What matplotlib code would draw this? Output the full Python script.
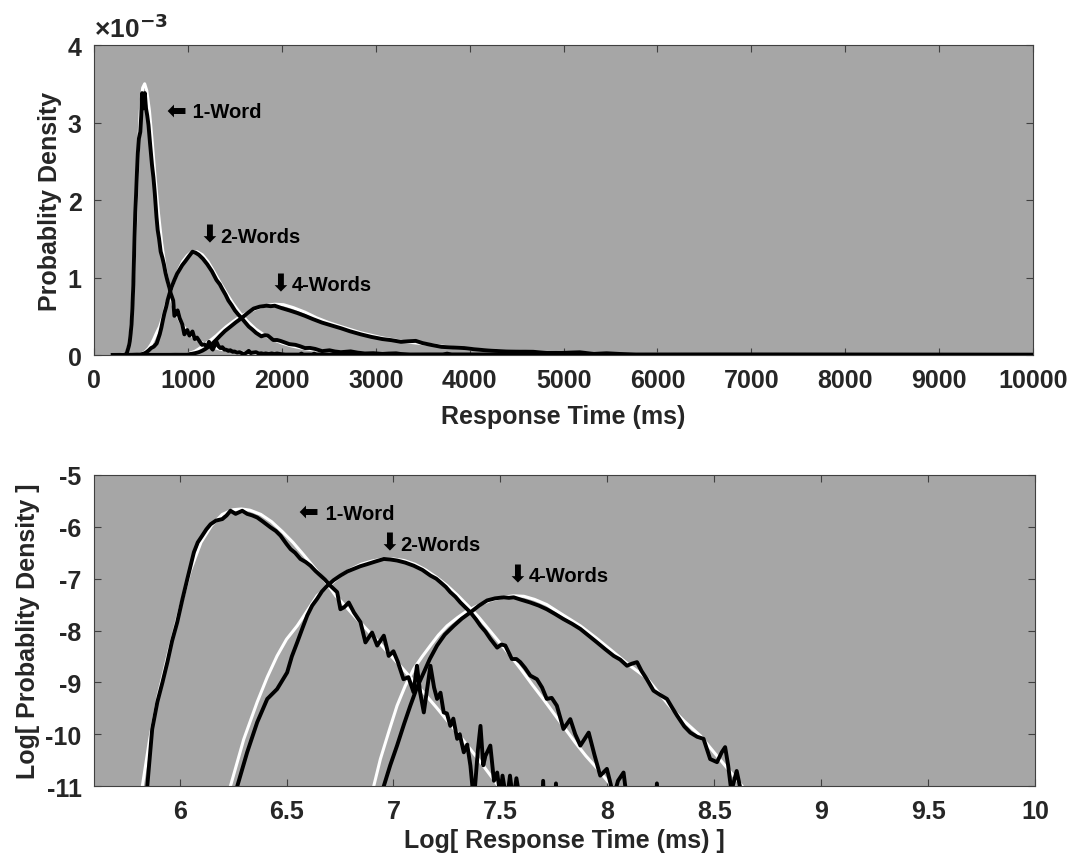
"""Response time densities: empirical (black) vs fitted (white), linear and log scales."""

import numpy as np
import matplotlib
matplotlib.use("Agg")
import matplotlib.pyplot as plt

# values read in log space: x = ln(RT ms), y = ln(density)
emp1_lx = [5.30, 5.70, 5.80, 5.849, 5.872, 5.896, 5.92, 5.943, 5.965, 5.989, 6.012, 6.036, 6.067,
           6.085, 6.106, 6.125, 6.145, 6.17, 6.20, 6.22, 6.238, 6.262, 6.293, 6.316, 6.34, 6.363,
           6.39, 6.425, 6.45, 6.472, 6.50, 6.519, 6.54, 6.565, 6.59, 6.612, 6.635, 6.659, 6.68,
           6.706, 6.737, 6.752, 6.77, 6.791, 6.815, 6.846, 6.869, 6.90, 6.924, 6.955, 6.978, 7.00,
           7.02, 7.047, 7.07, 7.094, 7.11, 7.125, 7.142, 7.173, 7.19, 7.204, 7.22, 7.235, 7.25,
           7.266, 7.28, 7.298, 7.31, 7.329, 7.345, 7.36, 7.376, 7.395, 7.407, 7.42, 7.43, 7.453,
           7.47, 7.485, 7.50, 7.51, 7.53, 7.545, 7.56, 7.575, 7.593, 7.62, 7.69, 7.70, 7.71, 7.75,
           7.76, 7.77, 8.00, 8.50, 9.25]
emp1_ly = [-14, -14, -12.5, -11.0, -9.90, -9.38, -9.0, -8.61, -8.2, -7.84, -7.42, -7.01, -6.49,
           -6.3, -6.17, -6.05, -5.95, -5.88, -5.85, -5.78, -5.69, -5.75, -5.69, -5.75, -5.78, -5.82,
           -5.9, -6.01, -6.08, -6.17, -6.33, -6.43, -6.5, -6.62, -6.68, -6.75, -6.85, -6.94, -7.02,
           -7.14, -7.26, -7.59, -7.55, -7.46, -7.65, -7.84, -8.23, -8.04, -8.29, -8.10, -8.49, -8.4,
           -8.6, -8.94, -8.9, -9.19, -8.68, -9.2, -9.58, -8.68, -9.1, -9.32, -9.2, -9.58, -9.6,
           -9.84, -9.7, -10.09, -10.0, -10.35, -10.2, -10.61, -11.3, -10.3, -9.84, -10.6, -10.42, -10.22,
           -10.9, -10.74, -11.2, -10.8, -11.3, -10.8, -11.3, -10.85, -11.3, -12, -12, -10.9, -12, -12,
           -10.95, -12, -12.5, -13, -13.5]

emp2_lx = [5.30, 6.00, 6.20, 6.27, 6.316, 6.363, 6.41, 6.456, 6.503, 6.525, 6.55, 6.575, 6.597,
           6.62, 6.643, 6.665, 6.69, 6.72, 6.752, 6.785, 6.815, 6.845, 6.877, 6.915, 6.955, 6.985,
           7.017, 7.055, 7.095, 7.135, 7.173, 7.20, 7.22, 7.245, 7.266, 7.29, 7.313, 7.335, 7.36,
           7.385, 7.407, 7.43, 7.453, 7.485, 7.505, 7.523, 7.554, 7.575, 7.593, 7.615, 7.64, 7.671,
           7.695, 7.717, 7.74, 7.764, 7.795, 7.827, 7.85, 7.874, 7.913, 7.94, 7.967, 7.998, 8.03,
           8.05, 8.076, 8.09, 8.12, 8.22, 8.232, 8.245, 8.60, 9.25]
emp2_ly = [-14, -13, -12, -11.0, -10.35, -9.77, -9.32, -9.13, -8.81, -8.5, -8.23, -7.95, -7.71,
           -7.52, -7.39, -7.25, -7.14, -7.03, -6.94, -6.86, -6.81, -6.76, -6.72, -6.67, -6.62, -6.63,
           -6.65, -6.69, -6.75, -6.83, -6.94, -7.0, -7.07, -7.16, -7.26, -7.35, -7.46, -7.55, -7.65,
           -7.78, -7.91, -8.02, -8.16, -8.33, -8.27, -8.29, -8.55, -8.55, -8.61, -8.72, -8.87, -8.94,
           -9.1, -9.32, -9.3, -9.45, -9.90, -9.71, -10.0, -10.22, -9.97, -10.4, -10.80, -10.67, -11.2,
           -10.9, -10.74, -11.2, -12, -12, -10.95, -12, -12.5, -13]

emp4_lx = [5.30, 6.70, 6.90, 6.955, 6.985, 7.017, 7.05, 7.079, 7.11, 7.142, 7.17, 7.204, 7.24,
           7.282, 7.32, 7.36, 7.40, 7.438, 7.475, 7.516, 7.54, 7.562, 7.60, 7.64, 7.68, 7.717,
           7.755, 7.795, 7.835, 7.874, 7.91, 7.952, 7.99, 8.03, 8.06, 8.092, 8.115, 8.139, 8.16,
           8.185, 8.216, 8.25, 8.279, 8.305, 8.326, 8.36, 8.388, 8.42, 8.45, 8.481, 8.513, 8.535,
           8.551, 8.565, 8.58, 8.605, 8.63, 8.66, 9.25]
emp4_ly = [-14, -13, -12, -11.0, -10.6, -10.22, -9.8, -9.45, -9.1, -8.81, -8.55, -8.29, -8.08,
           -7.91, -7.77, -7.65, -7.52, -7.42, -7.38, -7.36, -7.37, -7.36, -7.41, -7.46, -7.52, -7.59,
           -7.68, -7.78, -7.87, -7.97, -8.09, -8.23, -8.36, -8.49, -8.56, -8.68, -8.64, -8.61, -8.78,
           -8.94, -9.16, -9.25, -9.32, -9.5, -9.64, -9.85, -9.97, -10.05, -10.09, -10.48, -10.54, -10.35,
           -10.25, -10.6, -11.1, -10.71, -11.2, -12, -13]

fit1_lx = [5.50, 5.826, 5.86, 5.90, 5.95, 6.00, 6.05, 6.10, 6.15, 6.20, 6.25, 6.29, 6.33, 6.38,
           6.43, 6.48, 6.53, 6.58, 6.63, 6.68, 6.73, 6.78, 6.83, 6.88, 6.93, 6.98, 7.04, 7.10, 7.20,
           7.30, 7.40, 7.50, 7.60, 8.50, 9.25]
fit1_ly = [-16, -11.0, -10.1, -9.25, -8.4, -7.6, -6.85, -6.3, -5.97, -5.76, -5.67, -5.655, -5.68,
           -5.76, -5.9, -6.09, -6.3, -6.54, -6.79, -7.04, -7.33, -7.55, -7.78, -8.0, -8.22, -8.45,
           -8.72, -9.0, -9.48, -9.98, -10.5, -11.05, -11.6, -16, -20]

fit2_lx = [5.90, 6.10, 6.238, 6.30, 6.363, 6.41, 6.456, 6.50, 6.55, 6.60, 6.643, 6.70, 6.75, 6.80,
           6.85, 6.90, 6.95, 7.00, 7.05, 7.10, 7.15, 7.20, 7.25, 7.30, 7.35, 7.40, 7.45, 7.50, 7.55,
           7.60, 7.65, 7.70, 7.75, 7.80, 7.85, 7.90, 7.95, 8.00, 8.06, 8.20, 9.25]
fit2_ly = [-15, -12.5, -11.0, -10.1, -9.38, -8.9, -8.49, -8.17, -7.91, -7.6, -7.33, -7.13, -6.95,
           -6.82, -6.72, -6.66, -6.62, -6.62, -6.65, -6.72, -6.83, -6.97, -7.13, -7.32, -7.53, -7.75,
           -8.0, -8.25, -8.5, -8.77, -9.05, -9.32, -9.6, -9.88, -10.16, -10.42, -10.65, -10.9, -11.2,
           -12.2, -17]

fit4_lx = [6.50, 6.70, 6.908, 6.939, 6.98, 7.017, 7.055, 7.095, 7.135, 7.173, 7.21, 7.251, 7.30,
           7.345, 7.40, 7.453, 7.51, 7.562, 7.61, 7.66, 7.717, 7.77, 7.82, 7.874, 7.95, 8.03, 8.10,
           8.185, 8.25, 8.30, 8.36, 8.435, 8.513, 8.59, 8.65, 8.80, 9.25]
fit4_ly = [-15, -13, -11.0, -10.48, -9.93, -9.45, -9.07, -8.74, -8.5, -8.29, -8.09, -7.91, -7.75,
           -7.62, -7.51, -7.42, -7.36, -7.33, -7.34, -7.4, -7.5, -7.64, -7.77, -7.91, -8.15, -8.42,
           -8.66, -8.92, -9.25, -9.5, -9.75, -10.03, -10.42, -10.8, -11.1, -11.8, -14]

empirical = [(emp1_lx, emp1_ly), (emp2_lx, emp2_ly), (emp4_lx, emp4_ly)]
fitted = [(fit1_lx, fit1_ly), (fit2_lx, fit2_ly), (fit4_lx, fit4_ly)]

# annotation anchors (arrow glyph, label) per panel
top_notes = [(768, 3.16, "\u2b05", " 1-Word"), (1120, 1.55, "\u2b07", "2-Words"),
             (1876, 0.93, "\u2b07", "4-Words")]
bot_notes = [(6.556, -5.71, "\u2b05", " 1-Word"), (6.935, -6.31, "\u2b07", "2-Words"),
             (7.533, -6.91, "\u2b07", "4-Words")]

FONT = ["Liberation Sans", "DejaVu Sans"]
TXT = "#262626"
BG = "#a6a6a6"

plt.rcParams["font.family"] = FONT
plt.rcParams["font.weight"] = "bold"
plt.rcParams["axes.unicode_minus"] = False

fig = plt.figure(figsize=(10.71, 8.62), dpi=100)
ax_top = fig.add_axes([0.0878, 0.5870, 0.8768, 0.3596])
ax_bot = fig.add_axes([0.0878, 0.0870, 0.8786, 0.3608])

for ax in (ax_top, ax_bot):
    ax.set_facecolor(BG)
    for s in ax.spines.values():
        s.set_color("#404040")
        s.set_linewidth(0.8)
    ax.tick_params(direction="in", length=5, width=0.8, color="#404040",
                   top=True, right=True, labelsize=18, labelcolor=TXT, pad=9)


def annotate(ax, notes):
    for x, y, arrow, label in notes:
        t = ax.text(x, y, arrow, fontsize=17, color="black", va="center", ha="left",
                    family=["DejaVu Sans"], fontweight="bold")
        ax.annotate(label, xy=(1, 0.5), xycoords=t, xytext=(1, -1), textcoords="offset points",
                    fontsize=14.5, fontweight="bold", color="black", va="center", ha="left")


# top: linear scale, density in units of 1e-3
for lx, ly in fitted:
    ax_top.plot(np.exp(lx), np.exp(ly) * 1e3, color="white", lw=2.2, zorder=2)
for lx, ly in empirical:
    ax_top.plot(np.exp(lx), np.exp(ly) * 1e3, color="black", lw=2.8, zorder=3)

ax_top.set_xlim(0, 10000)
ax_top.set_ylim(0, 4)
ax_top.set_xticks(np.arange(0, 10001, 1000))
ax_top.set_yticks([0, 1, 2, 3, 4])
ax_top.set_xlabel("Response Time (ms)", fontsize=18, fontweight="bold", color=TXT, labelpad=9)
ax_top.set_ylabel("Probablity Density", fontsize=18, fontweight="bold", color=TXT, labelpad=4)
ax_top.text(0.0, 1.01, "×10$^{\\mathbf{-3}}$", transform=ax_top.transAxes, fontsize=19,
            color=TXT, ha="left", va="bottom")
annotate(ax_top, top_notes)

# bottom: log-log
for lx, ly in fitted:
    ax_bot.plot(lx, ly, color="white", lw=2.2, zorder=2)
for lx, ly in empirical:
    ax_bot.plot(lx, ly, color="black", lw=2.8, zorder=3)

ax_bot.set_xlim(5.6, 10)
ax_bot.set_ylim(-11, -5)
ax_bot.set_xticks([6, 6.5, 7, 7.5, 8, 8.5, 9, 9.5, 10])
ax_bot.set_xticklabels(["6", "6.5", "7", "7.5", "8", "8.5", "9", "9.5", "10"])
ax_bot.set_yticks([-11, -10, -9, -8, -7, -6, -5])
ax_bot.set_xlabel("Log[ Response Time (ms) ]", fontsize=18, fontweight="bold", color=TXT, labelpad=4)
ax_bot.set_ylabel("Log[ Probablity Density ]", fontsize=18, fontweight="bold", color=TXT, labelpad=4)
annotate(ax_bot, bot_notes)

fig.savefig("out.png", dpi=100)
